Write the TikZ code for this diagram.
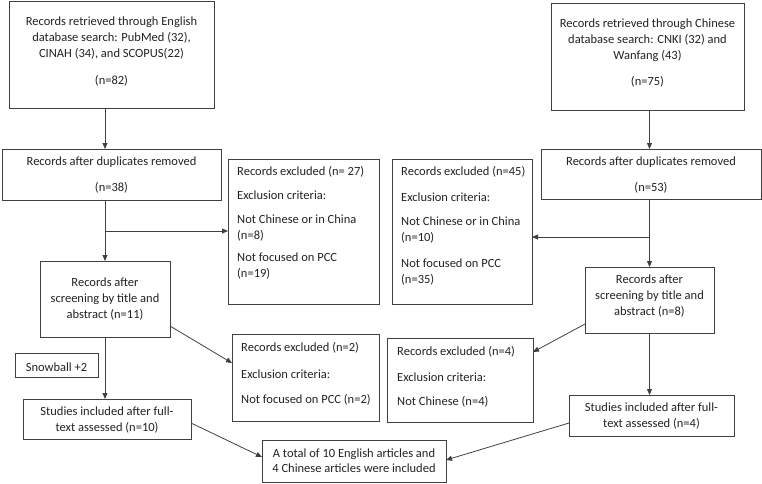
\documentclass[tikz,border=0pt]{standalone}
\usepackage{fontspec}
\setmainfont{Carlito}
\usetikzlibrary{arrows.meta,calc}
\definecolor{linec}{HTML}{404040}
\definecolor{txtc}{HTML}{222222}
\begin{document}
\begin{tikzpicture}[x=1pt,y=-1pt,
  box/.style={draw=linec,line width=0.9pt,inner sep=0pt,outer sep=0pt},
  txt/.style={text=txtc,inner sep=0pt,font=\fontsize{12.5}{16}\selectfont,align=center},
  ltxt/.style={txt,anchor=west,align=left},
  arr/.style={draw=linec,line width=0.8pt,-{Triangle[length=6pt,width=5pt]}}]
\useasboundingbox (0,0) rectangle (762,483);
% boxes
\node[box,minimum width=205,minimum height=107] (a) at (111.5,54.5) {};
\node[box,minimum width=193,minimum height=107] (b) at (647.5,56.5) {};
\node[box,minimum width=219,minimum height=51] (c) at (111.5,174.5) {};
\node[box,minimum width=220,minimum height=50] (f) at (651,174) {};
\node[box,minimum width=151,minimum height=145] (d) at (303.5,231.5) {};
\node[box,minimum width=140,minimum height=145] (e) at (462,231.5) {};
\node[box,minimum width=130,minimum height=76] (g) at (105,299) {};
\node[box,minimum width=129,minimum height=66] (h) at (649.5,300) {};
\node[box,minimum width=83,minimum height=24] (s) at (56.5,365) {};
\node[box,minimum width=168,minimum height=40] (i) at (107,419) {};
\node[box,minimum width=147,minimum height=87] (j) at (305.5,377.5) {};
\node[box,minimum width=146,minimum height=84] (l) at (460,380) {};
\node[box,minimum width=165,minimum height=41] (m) at (651.5,415.5) {};
\node[box,minimum width=184,minimum height=42] (k) at (354,461) {};
% texts
\node[txt] (ta) at (111.5,38) {Records retrieved through English\\database search: PubMed (32),\\CINAH (34), and SCOPUS(22)};
\node[txt] (ta2) at (111.5,81) {(n=82)};
\node[txt] (tb) at (647.5,40) {Records retrieved through Chinese\\database search: CNKI (32) and\\Wanfang (43)};
\node[txt] (tb2) at (647.5,82) {(n=75)};
\node[txt] (tc) at (111.5,162) {Records after duplicates removed};
\node[txt] (tc2) at (111.5,188) {(n=38)};
\node[txt] (tf) at (651,162) {Records after duplicates removed};
\node[txt] (tf2) at (651,188) {(n=53)};
\node[ltxt] (td1) at (237,172) {Records excluded (n= 27)};
\node[ltxt] (td2) at (237,195) {Exclusion criteria:};
\node[ltxt] (td3) at (237,228) {Not Chinese or in China\\(n=8)};
\node[ltxt] (td4) at (237,266.5) {Not focused on PCC\\(n=19)};
\node[ltxt] (te1) at (401,172) {Records excluded (n=45)};
\node[ltxt] (te2) at (401,197) {Exclusion criteria:};
\node[ltxt] (te3) at (401,230.5) {Not Chinese or in China\\(n=10)};
\node[ltxt] (te4) at (401,272) {Not focused on PCC\\(n=35)};
\node[txt] (tg) at (105,299) {Records after\\screening by title and\\abstract (n=11)};
\node[txt] (th) at (649.5,296) {Records after\\screening by title and\\abstract (n=8)};
\node[txt] (ts) at (56.5,367) {Snowball +2};
\node[txt] (ti) at (107,420) {Studies included after full-\\text assessed (n=10)};
\node[ltxt] (tj1) at (241,348) {Records excluded (n=2)};
\node[ltxt] (tj2) at (241,374) {Exclusion criteria:};
\node[ltxt] (tj3) at (241,400) {Not focused on PCC (n=2)};
\node[ltxt] (tl1) at (397,352) {Records excluded (n=4)};
\node[ltxt] (tl2) at (397,377) {Exclusion criteria:};
\node[ltxt] (tl3) at (397,402) {Not Chinese (n=4)};
\node[txt] (tm) at (651.5,416) {Studies included after full-\\text assessed (n=4)};
\node[txt,font=\fontsize{12.5}{15}\selectfont] (tk) at (354,460.5) {A total of 10 English articles and\\4 Chinese articles were included};
% connectors
\draw[arr] (a.south -| g.north) -- (c.north -| g.north);
\draw[arr] (b.south -| h.north) -- (f.north -| h.north);
\draw[arr] (c.south -| g.north) -- (g.north);
\draw[arr] (f.south -| h.north) -- (h.north);
\draw[arr] (g.north |- 0,231) -- (d.west |- 0,231);
\draw[arr] (h.north |- 0,237) -- (e.east |- 0,237);
\draw[arr] (g.south) -- (i.north -| g.south);
\draw[arr] (h.south) -- (m.north -| h.south);
\draw[arr] (g.east |- 0,326) -- (j.west |- 0,363);
\draw[arr] (h.west |- 0,324) -- (l.east |- 0,352);
\draw[arr] (i.east |- 0,423) -- (k.west |- 0,457);
\draw[arr] (m.west |- 0,423) -- (k.east |- 0,460);
\end{tikzpicture}
\end{document}
